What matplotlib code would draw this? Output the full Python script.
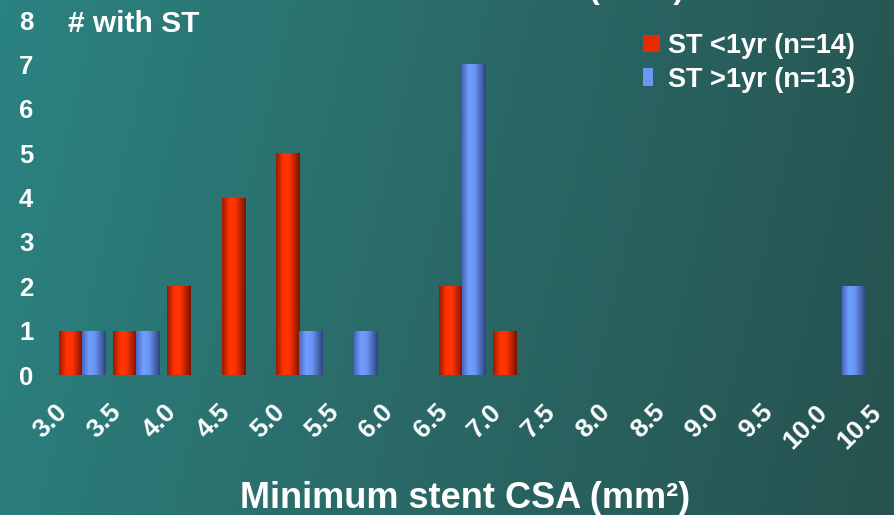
import matplotlib

matplotlib.use("Agg")
import matplotlib.pyplot as plt
import numpy as np
from matplotlib.colors import LinearSegmentedColormap
from matplotlib.legend_handler import HandlerPatch
from matplotlib.patches import Patch, Rectangle
from matplotlib.transforms import ScaledTranslation

# Minimum stent CSA bins (mm2) and stent thrombosis counts per bin
csa_bins = ["3.0", "3.5", "4.0", "4.5", "5.0", "5.5", "6.0", "6.5",
            "7.0", "7.5", "8.0", "8.5", "9.0", "9.5", "10.0", "10.5"]
st_early = [1, 1, 2, 4, 5, 0, 0, 2, 1, 0, 0, 0, 0, 0, 0, 0]
st_late = [1, 1, 0, 0, 1, 1, 0, 7, 0, 0, 0, 0, 0, 0, 2, 0]
series_labels = ["ST <1yr (n=14)", "ST >1yr (n=13)"]
y_ticks = [0, 1, 2, 3, 4, 5, 6, 7, 8]

RED_STOPS = ["#9a1a00", "#ff3300", "#ff3300", "#7a1300"]
BLUE_STOPS = ["#4a66c0", "#70a0ff", "#6a94f4", "#2f437f"]
STOP_POS = [0.0, 0.3, 0.55, 1.0]

plt.rcParams["font.family"] = ["Liberation Sans", "DejaVu Sans"]
plt.rcParams["font.weight"] = "bold"
plt.rcParams["text.color"] = "white"

W, H = 895, 515
fig = plt.figure(figsize=(W / 100, H / 100), dpi=100)

# teal slide background, lighter on the left, darker toward the right
bg = fig.add_axes([0, 0, 1, 1], zorder=0)
bg.set_axis_off()
gx, gy = np.meshgrid(np.linspace(0, 1, 300), np.linspace(0, 1, 180))
t = np.clip(0.88 * gx + 0.12 * gy, 0, 1)
bg_cmap = LinearSegmentedColormap.from_list(
    "slide", [(0.0, "#2b8381"), (0.5, "#2a6967"), (1.0, "#26524f")])
bg.imshow(bg_cmap(t), extent=(0, 1, 0, 1), aspect="auto", origin="upper")
bg.set_xlim(0, 1)
bg.set_ylim(0, 1)

ax = fig.add_axes([0.0613, 0.2718, 0.9708, 0.6893], zorder=1)
ax.set_facecolor("none")
for s in ax.spines.values():
    s.set_visible(False)

x = np.arange(len(csa_bins))
bw = 0.43
red_bars = ax.bar(x - bw / 2, st_early, bw, color="none")
blue_bars = ax.bar(x + bw / 2, st_late, bw, color="none")


def shade(bars, stops):
    # cylinder look: horizontal colour ramp clipped to each bar
    cmap = LinearSegmentedColormap.from_list("cyl", list(zip(STOP_POS, stops)))
    ramp = cmap(np.linspace(0, 1, 64))[None, :, :]
    for p in bars.patches:
        if p.get_height() <= 0:
            continue
        x0, y0 = p.get_x(), p.get_y()
        im = ax.imshow(ramp, extent=(x0, x0 + p.get_width(), y0, y0 + p.get_height()),
                       aspect="auto", zorder=2)
        im.set_clip_path(p)


shade(red_bars, RED_STOPS)
shade(blue_bars, BLUE_STOPS)

ax.set_xlim(-0.5, len(csa_bins) - 0.5)
ax.set_ylim(0, 8)
ax.set_yticks(y_ticks)
ax.tick_params(axis="y", length=0, pad=15.5, labelsize=18.5, labelcolor="white")
ax.set_xticks(x)
ax.set_xticklabels(csa_bins, rotation=45, ha="right", va="top")
ax.tick_params(axis="x", length=0, pad=0, labelsize=19, labelcolor="white")
shift = ScaledTranslation(-0.10, -0.25, fig.dpi_scale_trans)
for lab in ax.get_xticklabels():
    lab.set_transform(lab.get_transform() + shift)


def key(width_frac):
    def make(legend, orig_handle, xdescent, ydescent, width, height, fontsize):
        return Rectangle((-xdescent, -ydescent), width * width_frac, height,
                         facecolor=orig_handle.get_facecolor(), edgecolor="none")
    return HandlerPatch(patch_func=make)


red_key = Patch(facecolor="#e82a00")
blue_key = Patch(facecolor="#6a96f4")
ax.legend([red_key, blue_key], series_labels,
          handler_map={red_key: key(1.0), blue_key: key(0.6)},
          loc="upper left", bbox_to_anchor=(643 / W, 1 - 33 / H),
          bbox_transform=fig.transFigure, frameon=False,
          prop={"size": 19.5, "weight": "bold"}, labelcolor="white",
          handlelength=0.62, handleheight=0.62, handletextpad=0.3,
          labelspacing=0.28, borderpad=0, borderaxespad=0)

fig.text(68 / W, 1 - 32 / H, "# with ST", fontsize=21.5, va="baseline", ha="left")
fig.text(465 / W, 1 - 508 / H, "Minimum stent CSA (mm²)", fontsize=26,
         va="baseline", ha="center")
fig.text(588 / W, 1 + 2 / H, "(IVUS)", fontsize=23, va="baseline", ha="left")

fig.savefig("out.png", dpi=100)
